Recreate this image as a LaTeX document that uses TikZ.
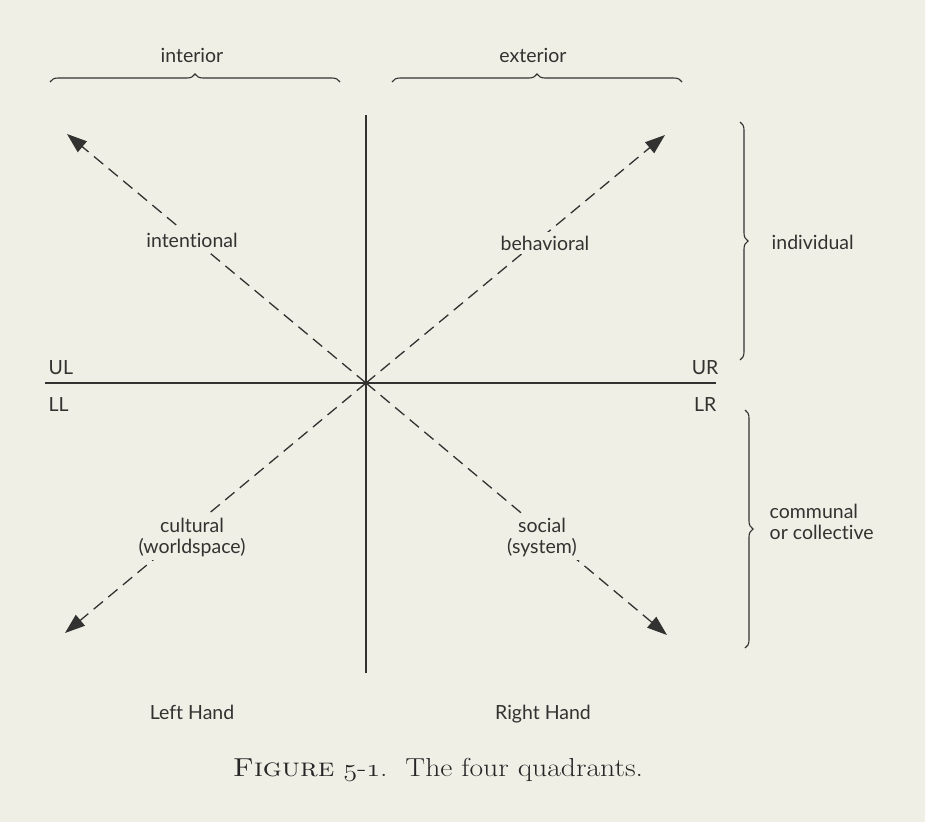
\documentclass[tikz,border=0pt]{standalone}
\usepackage{fontspec}
\newfontfamily\labelfont[Ligatures={NoCommon,NoContextual}]{Lato}
\usetikzlibrary{arrows.meta,decorations.pathreplacing}
\definecolor{paper}{RGB}{239,239,230}
\definecolor{ink}{RGB}{50,50,48}
\newcommand{\osn}[1]{{\usefont{OML}{cmm}{m}{it}#1}}
\begin{document}
\begin{tikzpicture}[x=1pt,y=-1pt,
  lbl/.style={font=\labelfont\fontsize{19.5}{23}\selectfont, text=ink, inner sep=1.5pt, align=center},
  gaplbl/.style={lbl, fill=paper, inner sep=4pt},
  axisline/.style={draw=ink, line width=1.5pt},
  diag/.style={draw=ink, line width=1.3pt, dash pattern=on 12pt off 7pt,
    -{Triangle[length=20pt,width=14pt]}},
  bracebig/.style={draw=ink, line width=1.1pt, decorate,
    decoration={brace, amplitude=8pt}}]
\fill[paper] (0,0) rectangle (925,822);
\useasboundingbox (0,0) rectangle (925,822);
% axes
\coordinate (O) at (366,383);
\coordinate (W) at (45,383);
\coordinate (E) at (716,383);
\coordinate (N) at (366,115);
\coordinate (S) at (366,673);
\draw[axisline] (W) -- (E);
\draw[axisline] (N) -- (S);
% diagonals
\coordinate (ULt) at (67,134);
\coordinate (URt) at (665,135);
\coordinate (LLt) at (65,633);
\coordinate (LRt) at (667,635);
\draw[diag] (O) -- (ULt);
\draw[diag] (O) -- (URt);
\draw[diag] (O) -- (LLt);
\draw[diag] (O) -- (LRt);
% quadrant labels
\node[gaplbl] (intentional) at (192,240) {intentional};
\node[gaplbl] (behavioral) at (545,243) {behavioral};
\node[gaplbl] (cultural) at (192,537) {cultural\\[-2pt](worldspace)};
\node[gaplbl] (social) at (542,537) {social\\[-2pt](system)};
% corner labels
\node[lbl, anchor=west] (UL) at (47,368) {UL};
\node[lbl, anchor=west] (LL) at (47,405) {LL};
\node[lbl, anchor=east] (UR) at (720,368) {UR};
\node[lbl, anchor=east] (LR) at (718,405) {LR};
% braces
\coordinate (intA) at (50,82);
\coordinate (intB) at (340,82);
\coordinate (extA) at (392,82);
\coordinate (extB) at (682,82);
\draw[bracebig] (intA) -- (intB);
\draw[bracebig] (extA) -- (extB);
\node[lbl] (interior) at (192,55) {interior};
\node[lbl] (exterior) at (533,55) {exterior};
\coordinate (indA) at (740,122);
\coordinate (indB) at (740,360);
\coordinate (comA) at (745,410);
\coordinate (comB) at (745,648);
\draw[bracebig] (indA) -- (indB);
\draw[bracebig] (comA) -- (comB);
\node[lbl, anchor=west] (individual) at (770,242) {individual};
\node[lbl, anchor=west, align=left] (communal) at (768,522) {communal\\[-2pt]or collective};
% hands
\node[lbl, anchor=base] (left) at (192,719) {Left Hand};
\node[lbl, anchor=base] (right) at (543,719) {Right Hand};
% caption
\node[font=\fontsize{26}{30}\selectfont, text=black!85, inner sep=0pt, xscale=1.14] (caption) at (438,770)
  {\textsc{Figure} \osn{5}-\osn{1}.\ \ The four quadrants.};
\end{tikzpicture}
\end{document}
